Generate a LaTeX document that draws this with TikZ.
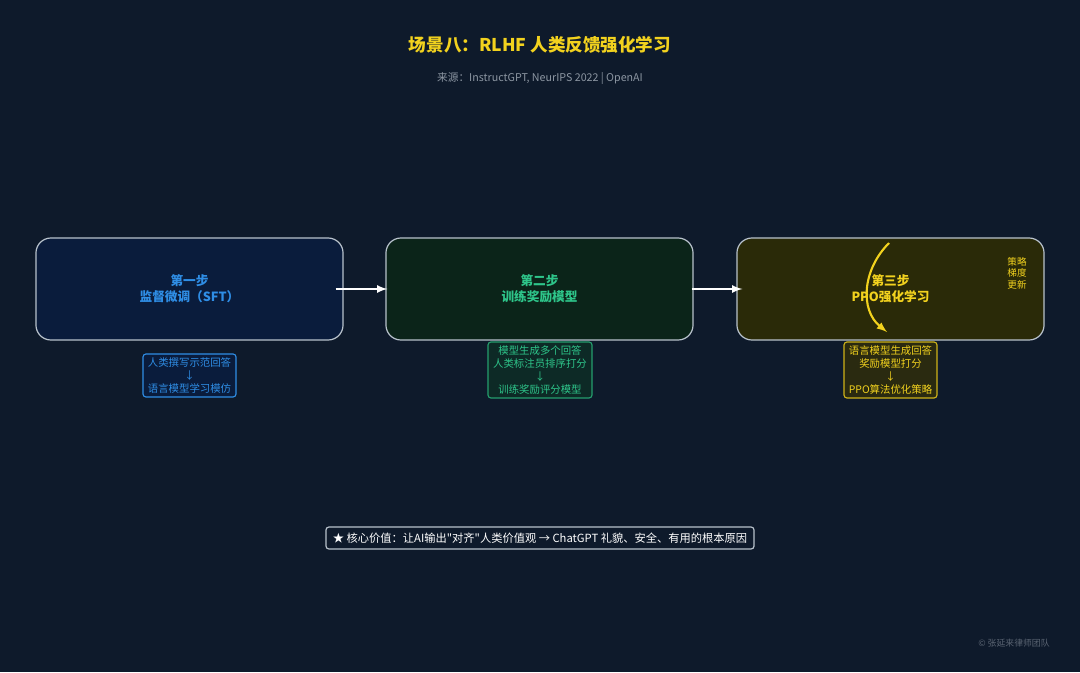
\documentclass[tikz,border=0pt]{standalone}
\usepackage{fontspec}
\setmainfont{Noto Sans CJK SC}
\newfontfamily\plaincjk{Noto Sans CJK SC}
\usetikzlibrary{positioning}
\definecolor{bgnavy}{HTML}{0E1A2B}
\definecolor{edgegray}{HTML}{B8C2CC}
\definecolor{sftblue}{HTML}{2F8EE6}
\definecolor{sftfill}{HTML}{0A1C3C}
\definecolor{rmgreen}{HTML}{2EC58A}
\definecolor{rmfill}{HTML}{0B2419}
\definecolor{rmdetail}{HTML}{0D2A26}
\definecolor{ppoyellow}{HTML}{F2D21E}
\definecolor{ppofill}{HTML}{2A2A08}
\definecolor{ppodetail}{HTML}{2A2A10}
\definecolor{subgray}{HTML}{8C96A2}
\tikzset{
	stage/.style={draw=edgegray,line width=0.85pt,rounded corners=0.375cm,minimum width=7.675cm,minimum height=2.55cm,align=center,font=\fontsize{9}{11.4}\selectfont\bfseries},
	detail/.style={rounded corners=0.075cm,line width=0.8pt,align=center,inner sep=1pt,font=\fontsize{7.4}{9.2}\selectfont},
	flow/.style={->,>=latex,white,line width=1.5pt}
}
\begin{document}
\begin{tikzpicture}[x=0.025cm,y=-0.025cm]
	\fill[bgnavy](0,0) rectangle (1080,672);
	\node[text=ppoyellow,font=\fontsize{12.5}{15}\selectfont\bfseries](title) at (540,45){场景八：RLHF 人类反馈强化学习};
	\node[text=subgray,font=\fontsize{7.6}{9}\selectfont](source) at (540,78){来源：InstructGPT, NeurIPS 2022 | OpenAI};
	\node[stage,fill=sftfill,text=sftblue](sft) at (189.5,289){第一步\\监督微调（SFT）};
	\node[stage,fill=rmfill,text=rmgreen](rm) at (539.5,289){第二步\\训练奖励模型};
	\node[stage,fill=ppofill,text=ppoyellow](ppo) at (890.5,289){第三步\\PPO强化学习};
	\draw[flow,shorten <=-0.2cm,shorten >=-0.05cm](sft.east) -- (rm.west);
	\draw[flow,shorten <=-0.05cm,shorten >=-0.15cm](rm.east) -- (ppo.west);
	\coordinate (gradtop) at (889,243);
	\coordinate (gradbot) at (887,332);
	\draw[->,>=latex,ppoyellow,line width=1.5pt](gradtop) .. controls (862,270) and (860,310) .. (gradbot);
	\node[text=ppoyellow,align=center,font=\fontsize{6.8}{8.2}\selectfont](gradlabel) at (1017,273){策略\\梯度\\更新};
	\node[detail,draw=sftblue,fill=sftfill,text=sftblue,minimum width=2.325cm,minimum height=1.075cm](sftsteps) at (189.5,375.5){人类撰写示范回答\\↓\\语言模型学习模仿};
	\node[detail,draw=rmgreen!80!black,fill=rmdetail,text=rmgreen,minimum width=2.6cm,minimum height=1.4cm](rmsteps) at (540,370){模型生成多个回答\\人类标注员排序打分\\↓\\训练奖励评分模型};
	\node[detail,draw=ppoyellow!85!black,fill=ppodetail,text=ppoyellow,minimum width=2.325cm,minimum height=1.4cm](pposteps) at (890.5,370){语言模型生成回答\\奖励模型打分\\↓\\PPO算法优化策略};
	\node[draw=edgegray,line width=0.85pt,rounded corners=0.075cm,fill=bgnavy,text=white,minimum width=10.7cm,minimum height=0.55cm,inner sep=1pt,font=\plaincjk\fontsize{8}{9.6}\selectfont](value) at (540,538){★ 核心价值：让AI输出"对齐"人类价值观 → ChatGPT 礼貌、安全、有用的根本原因};
	\node[text=subgray!60!bgnavy,font=\fontsize{6.3}{7.5}\selectfont](credit) at (1014,643){© 张延来律师团队};
\end{tikzpicture}
\end{document}
